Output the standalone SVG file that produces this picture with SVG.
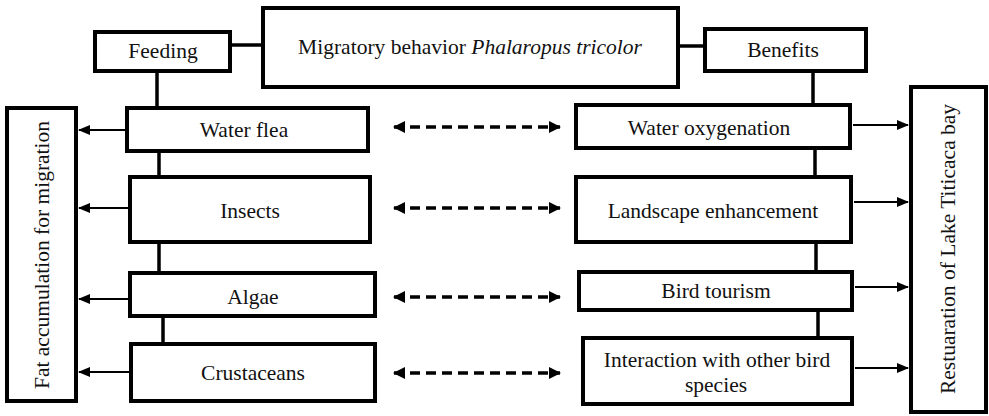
<svg xmlns="http://www.w3.org/2000/svg" width="989" height="416" viewBox="0 0 989 416">
<style>
.box{fill:#fff;stroke:#000;stroke-width:4}
.t{font-family:"Liberation Serif","Times New Roman",serif;font-size:21.5px;fill:#111;text-anchor:middle;dominant-baseline:central}
.link{stroke:#000;stroke-width:3.5;fill:none}
.arr{stroke:#000;stroke-width:2;fill:none;marker-end:url(#ah)}
.dash{stroke:#000;stroke-width:3.5;fill:none;stroke-dasharray:10 6;marker-start:url(#dhs);marker-end:url(#dhe)}
</style>
<defs>
<marker id="ah" markerWidth="12" markerHeight="10" refX="11" refY="5" orient="auto" markerUnits="userSpaceOnUse"><path d="M0,0 L12,5 L0,10 Z" fill="#000"/></marker>
<marker id="dhe" markerWidth="12" markerHeight="12" refX="11" refY="6" orient="auto" markerUnits="userSpaceOnUse"><path d="M0,0 L12,6 L0,12 Z" fill="#000"/></marker>
<marker id="dhs" markerWidth="12" markerHeight="12" refX="1" refY="6" orient="auto" markerUnits="userSpaceOnUse"><path d="M12,0 L0,6 L12,12 Z" fill="#000"/></marker>
</defs>
<g id="connectors">
<line class="link" x1="230" y1="45" x2="263" y2="45"/>
<line class="link" x1="678" y1="46" x2="705" y2="46"/>
<line class="link" x1="157" y1="71" x2="157" y2="108"/>
<line class="link" x1="159" y1="151" x2="159" y2="177"/>
<line class="link" x1="159" y1="242" x2="159" y2="273"/>
<line class="link" x1="163" y1="316" x2="163" y2="344"/>
<line class="link" x1="813" y1="71" x2="813" y2="105"/>
<line class="link" x1="815" y1="148" x2="815" y2="177"/>
<line class="link" x1="816" y1="242" x2="816" y2="272"/>
<line class="link" x1="818" y1="310" x2="818" y2="338"/>
<line class="arr" x1="125" y1="130" x2="79" y2="130"/>
<line class="arr" x1="128" y1="208" x2="79" y2="208"/>
<line class="arr" x1="128" y1="299" x2="79" y2="299"/>
<line class="arr" x1="129" y1="372" x2="79" y2="372"/>
<line class="arr" x1="853" y1="125" x2="908" y2="125"/>
<line class="arr" x1="854" y1="202" x2="908" y2="202"/>
<line class="arr" x1="855" y1="287" x2="908" y2="287"/>
<line class="arr" x1="855" y1="368" x2="908" y2="368"/>
<line class="dash" x1="394" y1="127" x2="560" y2="127"/>
<line class="dash" x1="394" y1="208" x2="560" y2="208"/>
<line class="dash" x1="394" y1="297" x2="560" y2="297"/>
<line class="dash" x1="394" y1="373" x2="560" y2="373"/>
</g>
<g id="title"><rect class="box" x="263" y="8" width="415" height="79"/><text class="t" x="470" y="47">Migratory behavior <tspan font-style="italic">Phalaropus tricolor</tspan></text></g>
<g id="feeding"><rect class="box" x="95" y="32" width="135" height="39"/><text class="t" x="163" y="51">Feeding</text></g>
<g id="benefits"><rect class="box" x="705" y="29" width="161" height="42"/><text class="t" x="783" y="50">Benefits</text></g>
<g id="fat"><rect class="box" x="7" y="108" width="69" height="293"/><text class="t" transform="translate(42,255) rotate(-90)">Fat accumulation for migration</text></g>
<g id="restoration"><rect class="box" x="911" y="87" width="75" height="325"/><text class="t" transform="translate(948,249) rotate(-90)">Restuaration of Lake Titicaca bay</text></g>
<g id="waterflea"><rect class="box" x="127" y="108" width="241" height="43"/><text class="t" x="244" y="130">Water flea</text></g>
<g id="insects"><rect class="box" x="130" y="177" width="240" height="65"/><text class="t" x="250" y="211">Insects</text></g>
<g id="algae"><rect class="box" x="130" y="273" width="245" height="43"/><text class="t" x="253" y="297">Algae</text></g>
<g id="crustaceans"><rect class="box" x="131" y="344" width="244" height="57"/><text class="t" x="253" y="373">Crustaceans</text></g>
<g id="oxygenation"><rect class="box" x="576" y="105" width="274" height="43"/><text class="t" x="709" y="128">Water oxygenation</text></g>
<g id="landscape"><rect class="box" x="576" y="177" width="275" height="65"/><text class="t" x="713" y="211">Landscape enhancement</text></g>
<g id="tourism"><rect class="box" x="579" y="272" width="273" height="38"/><text class="t" x="716" y="291">Bird tourism</text></g>
<g id="interaction"><rect class="box" x="583" y="338" width="269" height="66"/><text class="t" x="717" y="360">Interaction with other bird</text><text class="t" x="716" y="385">species</text></g>
</svg>
